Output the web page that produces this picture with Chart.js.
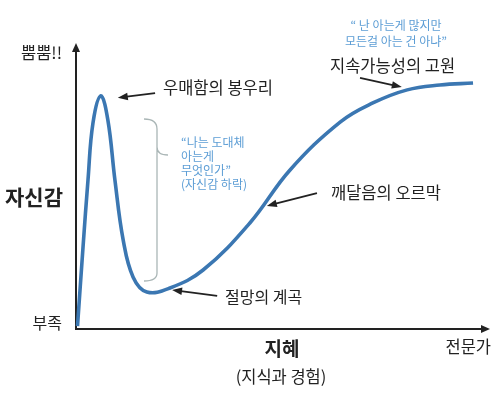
<!DOCTYPE html>
<html><head><meta charset="utf-8">
<script src="https://cdn.jsdelivr.net/npm/chart.js@4"></script>
<style>html,body{margin:0;padding:0;background:#fff}#wrap{width:500px;height:402px;position:relative}</style>
</head><body><div id="wrap"><canvas id="c"></canvas></div>
<script>
// Curve data (knowledge 0..100, confidence 0..100)
const knowledge  = [0.36, 1.7, 2.9, 4.1, 6.0, 7.7, 9.4, 11.4, 13.8, 17.1, 22.7, 30.7, 42.0, 51.7, 63.8, 71.7, 80.0, 87.9, 95.9];
const confidence = [1.0, 28.8, 52.3, 72.3, 81.8, 73.3, 52.3, 31.2, 18.2, 13.0, 14.4, 20.7, 37.2, 55.8, 72.6, 79.3, 83.9, 85.6, 86.3];

// Text labels
const yTopLabel = '뿜뿜!!';
const yAxisTitle = '자신감';
const yBottomLabel = '부족';
const xAxisTitle = '지혜';
const xAxisSub = '(지식과 경험)';
const xEndLabel = '전문가';
const stageLabels = ['우매함의 봉우리', '절망의 계곡', '깨달음의 오르막', '지속가능성의 고원'];
const quoteDrop = ['“나는 도대체', '아는게', '무엇인가”', '(자신감 하락)'];
const quoteTop = ['“ 난 아는게 많지만', '모든걸 아는 건 아냐”'];

// Annotation arrows in data coords [tailX, tailY, tipX, tipY]
const stageArrows = [
  [19.1, 82.8, 10.1, 81.1],
  [34.1, 11.6, 23.2, 13.7],
  [58.2, 47.7, 46.1, 43.2],
  [68.6, 88.1, 78.7, 84.9]
];

const FONT = '"Noto Sans CJK KR", "Noto Sans", sans-serif';
const DARK = '#222222';
const BLUE_TEXT = '#5c9dd5';

function arrowHead(ctx, x1, y1, x2, y2, len, half) {
  const a = Math.atan2(y2 - y1, x2 - x1);
  ctx.beginPath();
  ctx.moveTo(x2, y2);
  ctx.lineTo(x2 - len * Math.cos(a) + half * Math.sin(a), y2 - len * Math.sin(a) - half * Math.cos(a));
  ctx.lineTo(x2 - len * Math.cos(a) - half * Math.sin(a), y2 - len * Math.sin(a) + half * Math.cos(a));
  ctx.closePath();
  ctx.fill();
}
function arrow(ctx, x1, y1, x2, y2, lw, len, half) {
  const a = Math.atan2(y2 - y1, x2 - x1);
  ctx.lineWidth = lw;
  ctx.beginPath();
  ctx.moveTo(x1, y1);
  ctx.lineTo(x2 - (len * 0.7) * Math.cos(a), y2 - (len * 0.7) * Math.sin(a));
  ctx.stroke();
  arrowHead(ctx, x1, y1, x2, y2, len, half);
}

const deco = {
  id: 'deco',
  beforeDatasetsDraw(chart) {
    const {ctx, chartArea: ca} = chart;
    ctx.save();
    ctx.strokeStyle = DARK; ctx.fillStyle = DARK;
    // y axis
    arrow(ctx, ca.left, ca.bottom + 1, ca.left, ca.top - 1, 2, 9, 4);
    // x axis
    arrow(ctx, ca.left - 1, ca.bottom, ca.right, ca.bottom, 2, 9, 4);
    // brace
    ctx.strokeStyle = '#aab6b6'; ctx.lineWidth = 1.3;
    const bx = 157, bt = 119, bb = 281, bm = 155;
    ctx.beginPath();
    ctx.moveTo(144, bt);
    ctx.quadraticCurveTo(bx, bt, bx, bt + 10);
    ctx.lineTo(bx, bm - 8);
    ctx.quadraticCurveTo(bx, bm, 168, bm);
    ctx.moveTo(bx, bm - 8);
    ctx.quadraticCurveTo(bx, bm, bx + 0.01, bm + 8);
    ctx.lineTo(bx, bb - 8);
    ctx.quadraticCurveTo(bx, bb, 144, bb);
    ctx.stroke();
    ctx.restore();
  },
  afterDraw(chart) {
    const {ctx, scales: {x, y}} = chart;
    ctx.save();
    ctx.fillStyle = DARK; ctx.strokeStyle = DARK;
    // stage arrows
    stageArrows.forEach(a => {
      arrow(ctx, x.getPixelForValue(a[0]), y.getPixelForValue(a[1]), x.getPixelForValue(a[2]), y.getPixelForValue(a[3]), 1.8, 10, 3.8);
    });
    ctx.textBaseline = 'middle';
    ctx.textAlign = 'left';
    ctx.fillStyle = '#222';
    ctx.font = '16.5px ' + FONT;
    ctx.fillText(stageLabels[0], 163, 88);
    ctx.fillText(stageLabels[2], 331, 193);
    ctx.fillText(stageLabels[3], 330, 66);
    ctx.font = '16px ' + FONT;
    ctx.fillText(stageLabels[1], 225, 297);
    // axis labels
    ctx.textAlign = 'right';
    ctx.font = '16.5px ' + FONT;
    ctx.fillText(yTopLabel, 62, 53);
    ctx.font = '16px ' + FONT;
    ctx.fillText(yBottomLabel, 62, 323);
    ctx.font = 'bold 21px ' + FONT;
    ctx.fillText(yAxisTitle, 63, 197);
    ctx.textAlign = 'center';
    ctx.font = 'bold 19px ' + FONT;
    ctx.fillText(xAxisTitle, 282, 349);
    ctx.font = '16.5px ' + FONT;
    ctx.fillText(xAxisSub, 281, 377);
    ctx.textAlign = 'right';
    ctx.font = '16.5px ' + FONT;
    ctx.fillText(xEndLabel, 491, 347);
    // quotes
    ctx.fillStyle = BLUE_TEXT;
    ctx.font = '12px ' + FONT;
    ctx.textAlign = 'left';
    quoteDrop.forEach((t, i) => ctx.fillText(t, 181, 142 + i * 14.2));
    ctx.textAlign = 'center';
    quoteTop.forEach((t, i) => ctx.fillText(t, 396, 25 + i * 16));
    ctx.restore();
  }
};

new Chart(document.getElementById('c'), {
  type: 'line',
  data: {
    datasets: [{
      data: knowledge.map((k, i) => ({x: k, y: confidence[i]})),
      borderColor: '#3b77b2',
      borderWidth: 3.6,
      pointRadius: 0,
      tension: 0.4,
      fill: false,
      clip: false
    }]
  },
  options: {
    responsive: true,
    maintainAspectRatio: false,
    animation: false,
    layout: {padding: {left: 76, right: 10, top: 44, bottom: 73}},
    plugins: {legend: {display: false}, tooltip: {enabled: false}},
    scales: {
      x: {type: 'linear', min: 0, max: 100, display: false},
      y: {type: 'linear', min: 0, max: 100, display: false}
    }
  },
  plugins: [deco]
});
</script>
</body></html>
